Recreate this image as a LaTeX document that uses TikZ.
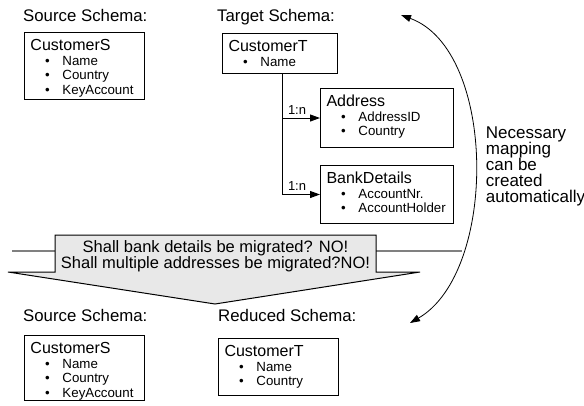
\documentclass[tikz,border=0pt]{standalone}
\usepackage{fontspec}
\setmainfont{Liberation Sans}
\usetikzlibrary{arrows.meta}

\newcommand{\attr}[1]{\\{\fontsize{13.3}{14.5}\selectfont\makebox[32pt][l]{\hspace{14.6pt}\textbullet}#1}}

\begin{document}
\begin{tikzpicture}[x=1pt,y=-1pt,
    schema/.style 2 args={draw,line width=1pt,anchor=north west,inner xsep=6pt,inner ysep=0pt,
      text width=#1,text height=18pt,text depth=#2,align=left,font=\fontsize{16}{14.5}\selectfont},
    head/.style={anchor=base west,inner sep=0pt,font=\fontsize{16.8}{20}\selectfont},
    card/.style={anchor=south west,inner sep=0pt,xshift=5pt,yshift=3.5pt,font=\fontsize{13}{15}\selectfont},
    link/.style={line width=1pt,-{Triangle[length=10pt,width=7pt]}},
    map/.style={line width=0.8pt,{Triangle[length=10pt,width=7pt]}-{Triangle[length=10pt,width=7pt]}}]
  \useasboundingbox (0,0) rectangle (584,405);
  % before
  \node[head] (srcHead) at (23,21.5) {Source Schema:};
  \node[head] (tgtHead) at (217,21.5) {Target Schema:};
  \node[schema={108pt}{49pt}] (custS) at (24,32) {CustomerS\attr{Name}\attr{Country}\attr{KeyAccount}};
  \node[schema={103pt}{22pt}] (custT) at (222,33) {CustomerT\attr{Name}};
  \node[schema={121pt}{41pt}] (addr) at (320,88) {Address\attr{AddressID}\attr{Country}};
  \node[schema={121pt}{40pt}] (bank) at (320,165) {BankDetails\attr{AccountNr.}\attr{AccountHolder}};
  \draw[link] ([xshift=2.5pt]custT.south) |- (addr.west) node[card,pos=0.5] {1:n};
  \draw[link] ([xshift=2.5pt]custT.south) |- (bank.west) node[card,pos=0.5] {1:n};
  % question arrow
  \draw[black!50,line width=1.3pt] (12,251) -- (462,251);
  \coordinate (tip) at (215,304);
  \filldraw[fill=black!9,draw=black,line width=1pt]
    (55,235) -- (376,235) -- (376,272) -- (420,272) -- (tip) -- (8,272) -- (55,272) -- cycle;
  \node[align=center,inner sep=0pt,font=\fontsize{16.5}{16}\selectfont] (ask) at (215.5,256.3)
    {Shall bank details be migrated? NO!\\Shall multiple addresses be migrated?NO!};
  % after
  \node[head] (srcHead2) at (23,321) {Source Schema:};
  \node[head] (redHead) at (218,321) {Reduced Schema:};
  \node[schema={108pt}{47pt}] (custS2) at (24,335) {CustomerS\attr{Name}\attr{Country}\attr{KeyAccount}};
  \node[schema={108pt}{39pt}] (custR) at (218,338) {CustomerT\attr{Name}\attr{Country}};
  % mapping
  \coordinate (mapTop) at (401,15);
  \coordinate (mapBot) at (410,323);
  \draw[map] (mapTop) .. controls (497,50) and (498,272) .. (mapBot);
  \node[anchor=west,align=left,inner sep=0pt,font=\fontsize{17}{16}\selectfont] (note) at (485.7,166.2)
    {Necessary\\mapping\\can be\\created\\automatically};
\end{tikzpicture}
\end{document}
